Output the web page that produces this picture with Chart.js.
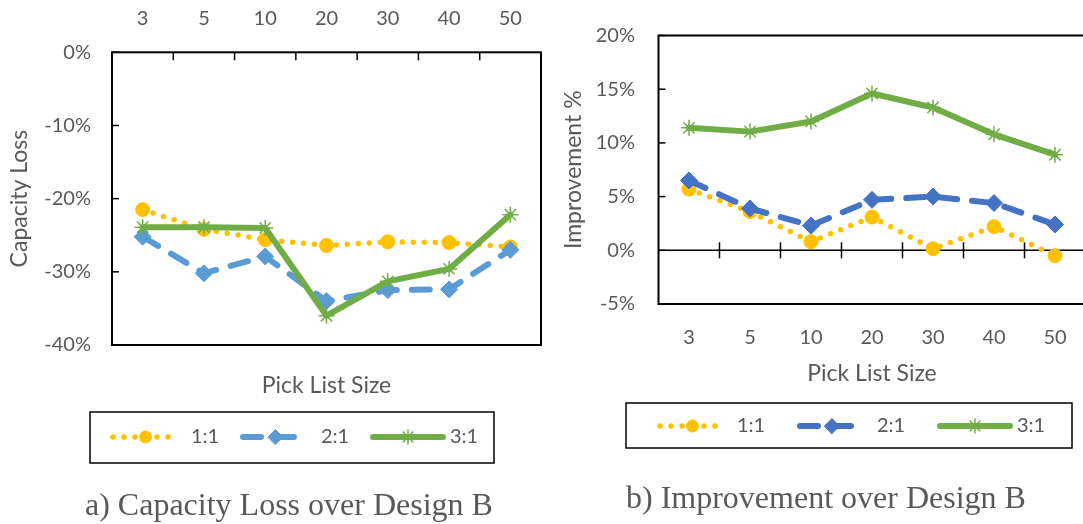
<!DOCTYPE html>
<html>
<head>
<meta charset="utf-8">
<script src="https://cdn.jsdelivr.net/npm/chart.js@4.4.1/dist/chart.umd.min.js"></script>
<style>
  html, body { margin: 0; padding: 0; background: #fff; }
  body { width: 1083px; height: 524px; position: relative; overflow: hidden; }
  canvas { position: absolute; top: 0; }
  #lossChart { left: 0; }
  #impChart { left: 560px; }
</style>
</head>
<body>
<canvas id="lossChart" width="560" height="524"></canvas>
<canvas id="impChart" width="560" height="524"></canvas>
<script>
// valores (em %)
const pickSizes = ['3', '5', '10', '20', '30', '40', '50'];
const seriesNames = ['1:1', '2:1', '3:1'];

const loss11 = [-21.5, -24.2, -25.6, -26.4, -25.9, -26.0, -26.6];
const loss21 = [-25.2, -30.2, -27.9, -34.0, -32.5, -32.4, -27.0];
const loss31 = [-23.9, -23.9, -24.0, -36.0, -31.3, -29.6, -22.2];

const imp11 = [5.7, 3.6, 0.8, 3.1, 0.15, 2.2, -0.5];
const imp21 = [6.5, 3.9, 2.3, 4.7, 5.0, 4.4, 2.4];
const imp31 = [11.4, 11.05, 12.0, 14.6, 13.3, 10.8, 8.9];

const lossTicks = { min: -40, max: 0, step: 10 };
const impTicks = { min: -5, max: 20, step: 5 };

const textGrey = '#595959';
const yellow = '#FFC000';
const green = '#70AD47';

Chart.defaults.font.family = 'Lato';
Chart.defaults.color = textGrey;

function makeDatasets(v11, v21, v31, blue) {
    return [
        {
            label: seriesNames[0], data: v11, order: 3,
            borderColor: yellow, backgroundColor: yellow,
            borderWidth: 5.5, borderDash: [0, 11], borderCapStyle: 'round',
            pointStyle: 'circle', pointRadius: 7, pointBorderWidth: 1,
            pointBackgroundColor: yellow, pointBorderColor: yellow
        },
        {
            label: seriesNames[1], data: v21, order: 2,
            borderColor: blue, backgroundColor: blue,
            borderWidth: 6, borderDash: [18, 15], borderCapStyle: 'round',
            pointStyle: 'rectRot', pointRadius: 8.5, pointBorderWidth: 1,
            pointBackgroundColor: blue, pointBorderColor: blue
        },
        {
            label: seriesNames[2], data: v31, order: 1,
            borderColor: green, backgroundColor: green,
            borderWidth: 6, borderCapStyle: 'round', borderJoinStyle: 'round',
            pointStyle: 'star', pointRadius: 8, pointBorderWidth: 1.5,
            pointBackgroundColor: green, pointBorderColor: green
        }
    ];
}

// moldura, marcas internas e linha do zero
const framePlugin = {
    id: 'frame',
    beforeDatasetsDraw(chart, args, opts) {
        const { ctx, chartArea: a } = chart;
        const xs = chart.scales.x;
        const ys = chart.scales.y;
        ctx.save();
        ctx.strokeStyle = '#000';
        ctx.lineWidth = 2;
        ctx.strokeRect(a.left, a.top, a.right - a.left, a.bottom - a.top);

        ctx.lineWidth = 1.5;
        ys.ticks.forEach(t => {
            const py = ys.getPixelForValue(t.value);
            ctx.beginPath();
            ctx.moveTo(a.left, py);
            ctx.lineTo(a.left + 7, py);
            ctx.stroke();
        });

        const y0 = ys.getPixelForValue(0);
        if (opts.zeroLine) {
            ctx.beginPath();
            ctx.moveTo(a.left, y0);
            ctx.lineTo(a.right, y0);
            ctx.stroke();
        }
        for (let i = 0; i < pickSizes.length - 1; i++) {
            const px = (xs.getPixelForValue(i) + xs.getPixelForValue(i + 1)) / 2;
            ctx.beginPath();
            if (opts.zeroLine) {
                ctx.moveTo(px, y0 - 8);
                ctx.lineTo(px, y0 + 8);
            } else {
                ctx.moveTo(px, a.top);
                ctx.lineTo(px, a.top + 8);
            }
            ctx.stroke();
        }
        ctx.restore();
    }
};

// legenda em caixa + legenda da figura
const boxLegendPlugin = {
    id: 'boxLegend',
    afterDraw(chart, args, opts) {
        const ctx = chart.ctx;
        const [bx0, by0, bx1, by1] = opts.box;
        ctx.save();
        ctx.strokeStyle = '#000';
        ctx.lineWidth = 1.5;
        ctx.strokeRect(bx0, by0, bx1 - bx0, by1 - by0);

        opts.items.forEach((it, i) => {
            const ds = chart.data.datasets[i];
            ctx.strokeStyle = ds.borderColor;
            ctx.fillStyle = ds.borderColor;
            ctx.lineWidth = ds.borderWidth;
            ctx.lineCap = 'round';
            ctx.setLineDash(ds.borderDash || []);
            ctx.beginPath();
            ctx.moveTo(it.x0, opts.cy);
            ctx.lineTo(it.x1, opts.cy);
            ctx.stroke();
            ctx.setLineDash([]);
            ctx.lineWidth = ds.pointBorderWidth;
            Chart.helpers.drawPoint(ctx, {
                pointStyle: ds.pointStyle,
                radius: ds.pointRadius - 1,
                borderWidth: ds.pointBorderWidth,
                rotation: 0
            }, (it.x0 + it.x1) / 2, opts.cy);

            ctx.fillStyle = textGrey;
            ctx.font = '20px Lato';
            ctx.textAlign = 'left';
            ctx.textBaseline = 'middle';
            ctx.fillText(ds.label, it.tx, opts.cy);
        });

        ctx.fillStyle = textGrey;
        ctx.font = '32px "Liberation Serif"';
        ctx.textAlign = 'left';
        ctx.textBaseline = 'alphabetic';
        ctx.fillText(opts.caption.text, opts.caption.x, opts.caption.y);
        ctx.restore();
    }
};

const tickFont = { size: 20 };
const titleFont = { size: 23 };

new Chart(document.getElementById('lossChart'), {
    type: 'line',
    data: { labels: pickSizes, datasets: makeDatasets(loss11, loss21, loss31, '#5B9BD5') },
    plugins: [framePlugin, boxLegendPlugin],
    options: {
        responsive: false,
        animation: false,
        devicePixelRatio: 1,
        layout: { padding: { top: 0, right: 19, bottom: 119, left: 0 } },
        plugins: {
            legend: { display: false },
            tooltip: { enabled: false },
            frame: { zeroLine: false },
            boxLegend: {
                box: [90, 412, 494, 463],
                cy: 437,
                items: [
                    { x0: 113, x1: 178, tx: 191 },
                    { x0: 243, x1: 308, tx: 321 },
                    { x0: 373, x1: 443, tx: 450 }
                ],
                caption: { text: 'a) Capacity Loss over Design B', x: 85, y: 515 }
            }
        },
        scales: {
            x: {
                position: 'top',
                offset: true,
                grid: { display: false, drawTicks: false },
                border: { display: false },
                ticks: { font: tickFont, padding: 22 },
                afterFit(s) { s.height = 52.3; }
            },
            xTitle: {
                type: 'category',
                position: 'bottom',
                grid: { display: false, drawTicks: false },
                border: { display: false },
                ticks: { display: false },
                title: { display: true, text: 'Pick List Size', font: titleFont, padding: { top: 0, bottom: 6 } },
                afterFit(s) { s.height = 60; }
            },
            y: {
                min: lossTicks.min,
                max: lossTicks.max,
                grid: { display: false, drawTicks: false },
                border: { display: false },
                ticks: { stepSize: lossTicks.step, font: tickFont, padding: 21, callback: v => v + '%' },
                title: { display: true, text: 'Capacity Loss', font: titleFont, padding: { top: 6, bottom: 0 } },
                afterFit(s) { s.width = 112; }
            }
        }
    }
});

new Chart(document.getElementById('impChart'), {
    type: 'line',
    data: { labels: pickSizes, datasets: makeDatasets(imp11, imp21, imp31, '#4472C4') },
    plugins: [framePlugin, boxLegendPlugin],
    options: {
        responsive: false,
        animation: false,
        devicePixelRatio: 1,
        layout: { padding: { top: 27.7, right: 34.5, bottom: 120, left: 0 } },
        plugins: {
            legend: { display: false },
            tooltip: { enabled: false },
            frame: { zeroLine: true },
            boxLegend: {
                box: [66, 403, 512, 448],
                cy: 426,
                items: [
                    { x0: 100, x1: 165, tx: 177 },
                    { x0: 240, x1: 304, tx: 317 },
                    { x0: 380, x1: 450, tx: 457 }
                ],
                caption: { text: 'b) Improvement over Design B', x: 66, y: 508 }
            }
        },
        scales: {
            x: {
                position: 'bottom',
                offset: true,
                grid: { display: false, drawTicks: false },
                border: { display: false },
                ticks: { font: tickFont, padding: 22 },
                title: { display: true, text: 'Pick List Size', font: titleFont, padding: { top: 0, bottom: 17 } },
                afterFit(s) { s.height = 100; }
            },
            y: {
                min: impTicks.min,
                max: impTicks.max,
                grid: { display: false, drawTicks: false },
                border: { display: false },
                ticks: { stepSize: impTicks.step, font: tickFont, padding: 23.5, callback: v => v + '%' },
                title: { display: true, text: 'Improvement %', font: titleFont, padding: { top: 0, bottom: 0 } },
                afterFit(s) { s.width = 98.5; }
            }
        }
    }
});
</script>
</body>
</html>
